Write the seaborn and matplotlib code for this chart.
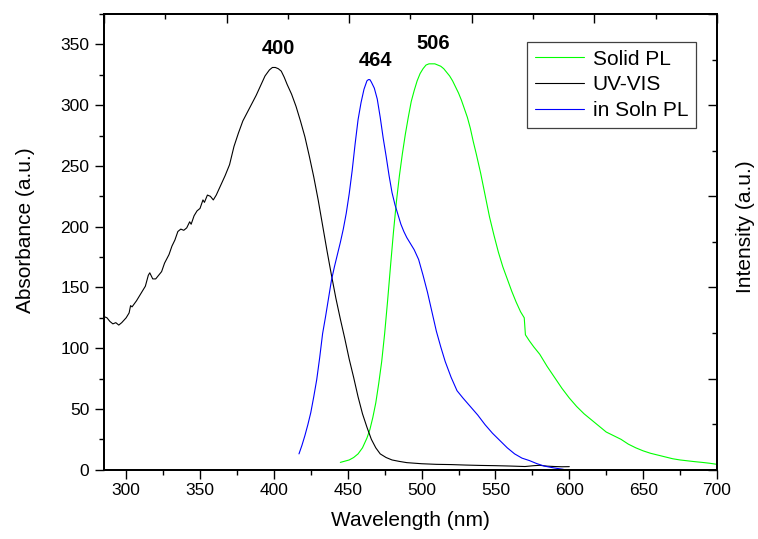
import pandas as pd
import numpy as np
import seaborn as sns
import matplotlib.pyplot as plt
from matplotlib.ticker import MultipleLocator

# UV-VIS absorbance
uv_x = [285, 287, 289, 291, 293, 295, 297, 300, 302, 303, 304, 307, 310, 313, 315, 316, 318, 320,
        322, 324, 326, 329, 331, 333, 335, 337, 339, 341, 343, 344, 346, 348, 350, 352, 353, 355,
        357, 359, 361, 364, 367, 370, 373, 376, 379, 382, 385, 388, 391, 394, 397, 399, 401, 403,
        405, 407, 409, 412, 415, 418, 421, 424, 427, 430, 433, 436, 439, 442, 445, 448, 451, 454,
        457, 460, 463, 466, 469, 472, 476, 480, 485, 490, 500, 510, 520, 530, 540, 550, 560, 570,
        576, 580, 585, 590, 595, 600]
uv_y = [126, 125, 122, 120, 121, 119, 121, 125, 129, 135, 134, 139, 145, 151, 160, 162, 157, 157,
        160, 163, 170, 177, 184, 189, 196, 198, 197, 199, 204, 202, 209, 213, 215, 222, 220, 226,
        225, 222, 226, 234, 242, 251, 266, 277, 287, 294, 301, 308, 316, 324, 329, 331, 331, 330,
        328, 323, 317, 309, 299, 287, 274, 258, 241, 222, 201, 180, 160, 141, 124, 108, 91, 76,
        60, 46, 35, 25, 18, 13, 10, 8, 6.8, 5.8, 4.9, 4.4, 4.2, 3.8, 3.5, 3.3, 3.0, 2.6,
        3.3, 3.6, 2.9, 2.6, 2.4, 2.5]

# PL in solution
soln_x = [417, 419, 421, 423, 425, 427, 429, 431, 433, 435, 437, 439, 441, 443, 445, 447, 449, 451,
          453, 455, 457, 459, 461, 463, 464, 465, 466, 468, 470, 472, 474, 476, 478, 480, 482, 484,
          486, 488, 490, 492, 495, 498, 501, 504, 507, 510, 513, 516, 520, 524, 528, 533, 538, 543,
          548, 553, 558, 563, 568, 573, 578, 583, 588, 592, 596]
soln_y = [13, 20, 28, 37, 47, 60, 74, 92, 112, 126, 141, 156, 167, 177, 187, 198, 211, 227,
          246, 268, 288, 302, 313, 320, 321, 321, 319, 314, 305, 290, 273, 258, 242, 228, 218, 210,
          202, 196, 191, 187, 181, 173, 160, 146, 130, 114, 101, 89, 76, 65, 59, 52, 45, 37,
          30, 24, 18, 13, 9.5, 7.5, 5, 3, 1.8, 1, 0.3]

# solid state PL
solid_x = [445, 448, 451, 454, 457, 460, 463, 465, 467, 469, 471, 473, 475, 477, 479, 481, 483, 485,
           487, 489, 491, 493, 495, 497, 499, 501, 503, 505, 507, 509, 511, 513, 515, 517, 519, 521,
           523, 525, 527, 529, 531, 533, 535, 537, 540, 543, 546, 549, 552, 555, 558, 561, 564, 567,
           569.5, 570.3, 573, 576, 580, 585, 590, 595, 600, 605, 610, 615, 620, 625, 630, 635, 640,
           645, 650, 655, 660, 665, 670, 675, 680, 685, 690, 695, 700]
solid_y = [6, 7, 8, 10, 13, 18, 26, 33, 43, 55, 71, 89, 112, 139, 168, 196, 221, 242,
           260, 276, 290, 303, 312, 320, 326, 330, 333, 334, 334, 334, 333, 332, 330, 327, 324, 320,
           315, 310, 304, 297, 290, 281, 270, 260, 244, 226, 208, 193, 179, 167, 157, 147, 138, 130,
           125, 111, 106, 101, 95, 85, 76, 67, 59, 52, 46, 41, 36, 31, 28, 25, 21,
           18, 15.5, 13.5, 12, 10.5, 9, 8, 7.3, 6.6, 6.0, 5.3, 4.4]

series_names = ['Solid PL', 'UV-VIS', 'in Soln PL']
series_colors = ['#00ff00', '#000000', '#0000ff']
peak_labels = ['400', '464', '506']
peak_x = [403, 468.6, 508]
peak_y = [347, 337, 351]

df = pd.concat([
    pd.DataFrame({'wl': solid_x, 'val': solid_y, 'series': 'Solid PL'}),
    pd.DataFrame({'wl': uv_x, 'val': uv_y, 'series': 'UV-VIS'}),
    pd.DataFrame({'wl': soln_x, 'val': soln_y, 'series': 'in Soln PL'}),
], ignore_index=True)

sns.set_style("ticks")
plt.rcParams['font.family'] = ['Liberation Sans', 'DejaVu Sans']
plt.rcParams['text.color'] = 'black'
plt.rcParams['axes.labelcolor'] = 'black'
plt.rcParams['xtick.color'] = 'black'
plt.rcParams['ytick.color'] = 'black'

fig = plt.figure(figsize=(7.58, 5.39), dpi=100)
ax = fig.add_axes([0.1372, 0.1286, 0.8087, 0.8454])

sns.lineplot(data=df, x='wl', y='val', hue='series', hue_order=series_names,
             palette=dict(zip(series_names, series_colors)), estimator=None, sort=False,
             linewidth=0.8, ax=ax)

ax.set_xlim(285, 700)
ax.set_ylim(0, 375)
ax.xaxis.set_major_locator(MultipleLocator(50))
ax.xaxis.set_minor_locator(MultipleLocator(25))
ax.yaxis.set_major_locator(MultipleLocator(50))
ax.yaxis.set_minor_locator(MultipleLocator(25))
ax.tick_params(which='major', direction='out', length=6.5, width=1, labelsize=12.5, pad=3)
ax.tick_params(which='minor', direction='out', length=3.6, width=1)
ax.tick_params(axis='y', which='major', pad=4)
ax.set_xlabel('Wavelength (nm)', fontsize=15)
ax.set_ylabel('Absorbance (a.u.)', fontsize=15)
ax.xaxis.set_label_coords(0.5, -0.09)
ax.yaxis.set_label_coords(-0.113, 0.526)

for lab, px, py in zip(peak_labels, peak_x, peak_y):
    ax.text(px, py, lab, ha='center', va='center', fontsize=14.5, fontweight='bold')

leg = ax.legend(loc='upper right', bbox_to_anchor=(0.9657, 0.939), fontsize=15,
                frameon=True, fancybox=False, framealpha=1, edgecolor='#404040',
                handlelength=2.35, handletextpad=0.43, labelspacing=0.32, borderpad=0.38,
                borderaxespad=0)
leg.get_frame().set_linewidth(0.9)
for h in leg.get_lines():
    h.set_linewidth(0.8)

# origin-style extra axes: ticks on top and right without labels
ax_top = ax.twiny()
ax_top.set_xlim(0, 5)
ax_top.xaxis.set_major_locator(MultipleLocator(1))
ax_top.xaxis.set_minor_locator(MultipleLocator(0.5))
ax_top.tick_params(which='major', direction='in', length=6.5, width=1, labeltop=False)
ax_top.tick_params(which='minor', direction='in', length=3.6, width=1)

ax_r = ax.twinx()
ax_r.set_ylim(0, 5)
ax_r.yaxis.set_major_locator(MultipleLocator(1))
ax_r.yaxis.set_minor_locator(MultipleLocator(0.5))
ax_r.tick_params(which='major', direction='in', length=6.5, width=1, labelright=False)
ax_r.tick_params(which='minor', direction='in', length=3.6, width=1)
ax_r.set_ylabel('Intensity (a.u.)', fontsize=15)
ax_r.yaxis.set_label_coords(1.031, 0.533)

for a in (ax, ax_top, ax_r):
    for s in a.spines.values():
        s.set_linewidth(1.2)
        s.set_color('black')

fig.savefig('out.png', dpi=100)
